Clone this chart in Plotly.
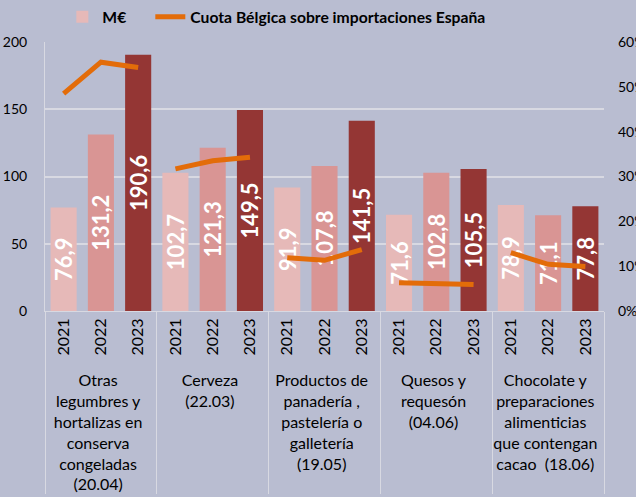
import plotly.graph_objects as go

categories = [
    "Otras<br>legumbres y<br>hortalizas en<br>conserva<br>congeladas<br>(20.04)",
    "Cerveza<br>(22.03)",
    "Productos de<br>panadería ,<br>pastelería o<br>galletería<br>(19.05)",
    "Quesos y<br>requesón<br>(04.06)",
    "Chocolate y<br>preparaciones<br>alimenticias<br>que contengan<br>cacao  (18.06)",
]
years = ["2021", "2022", "2023"]

values_2021 = [76.9, 102.7, 91.9, 71.6, 78.9]
values_2022 = [131.2, 121.3, 107.8, 102.8, 71.1]
values_2023 = [190.6, 149.5, 141.5, 105.5, 77.8]

share_2021 = [0.485, 0.317, 0.119, 0.063, 0.130]
share_2022 = [0.555, 0.335, 0.113, 0.062, 0.104]
share_2023 = [0.543, 0.343, 0.137, 0.059, 0.099]

bar_name = "M€"
line_name = "Cuota Bélgica sobre importaciones España"

year_colors = ["#e6b9b8", "#d99594", "#943634"]
line_color = "#e36c09"
bg = "#b9bdd1"
grid = "#d8d9e2"
FONT = "Lato"

xs_cat, xs_year, vals, cols = [], [], [], []
for i, c in enumerate(categories):
    for j, (y, v) in enumerate(zip(years, [values_2021[i], values_2022[i], values_2023[i]])):
        xs_cat.append(c)
        xs_year.append(y)
        vals.append(v)
        cols.append(year_colors[j])

fig = go.Figure()
fig.add_trace(go.Bar(
    x=[xs_cat, xs_year], y=vals, name=bar_name + "\u00a0" * 5,
    marker=dict(color=cols, line=dict(width=0)),
    texttemplate="%{y:.1f}", textposition="inside", insidetextanchor="middle",
    textangle=-90, constraintext="none",
    textfont=dict(family=FONT, size=22, color="white", weight="bold"),
    hoverinfo="skip",
))

for i, c in enumerate(categories):
    fig.add_trace(go.Scatter(
        x=[[c] * 3, years], y=[share_2021[i], share_2022[i], share_2023[i]],
        yaxis="y2", mode="lines", name=line_name,
        line=dict(color=line_color, width=5), showlegend=(i == 0),
        hoverinfo="skip",
    ))

fig.update_layout(
    width=636, height=497,
    margin=dict(l=45, r=32, t=42, b=186, autoexpand=False),
    paper_bgcolor=bg, plot_bgcolor=bg,
    separators=",.",
    bargap=0.3,
    font=dict(family=FONT, size=14, color="black"),
    showlegend=True,
    legend=dict(orientation="h", x=0.031, xanchor="left", y=1.093, yanchor="middle",
                font=dict(family=FONT, size=15.7, color="black", weight="bold"),
                bgcolor="rgba(0,0,0,0)", traceorder="normal"),
    xaxis=dict(type="multicategory", tickangle=-90, showline=True, linecolor=grid,
               linewidth=1, showgrid=False, ticks="", showdividers=True,
               dividercolor=grid, dividerwidth=1, automargin=False,
               tickfont=dict(family=FONT, size=16, color="black")),
    yaxis=dict(range=[0, 200], dtick=50, showgrid=True, gridcolor=grid, gridwidth=1.5,
               showline=True, linecolor=grid, linewidth=1, zeroline=False, ticks="",
               automargin=False, ticklabelstandoff=14,
               tickfont=dict(family=FONT, size=14, color="black")),
    yaxis2=dict(range=[0, 0.6], dtick=0.1, tickformat=".0%", overlaying="y", side="right",
                showgrid=False, zeroline=False, showline=False, ticks="", automargin=False,
                ticklabelstandoff=13,
                tickfont=dict(family=FONT, size=14, color="black")),
)

fig.write_html(
    "out.html",
    config={"displayModeBar": False},
    post_script="document.body.style.margin='0px';document.body.style.background='%s';" % bg,
)
